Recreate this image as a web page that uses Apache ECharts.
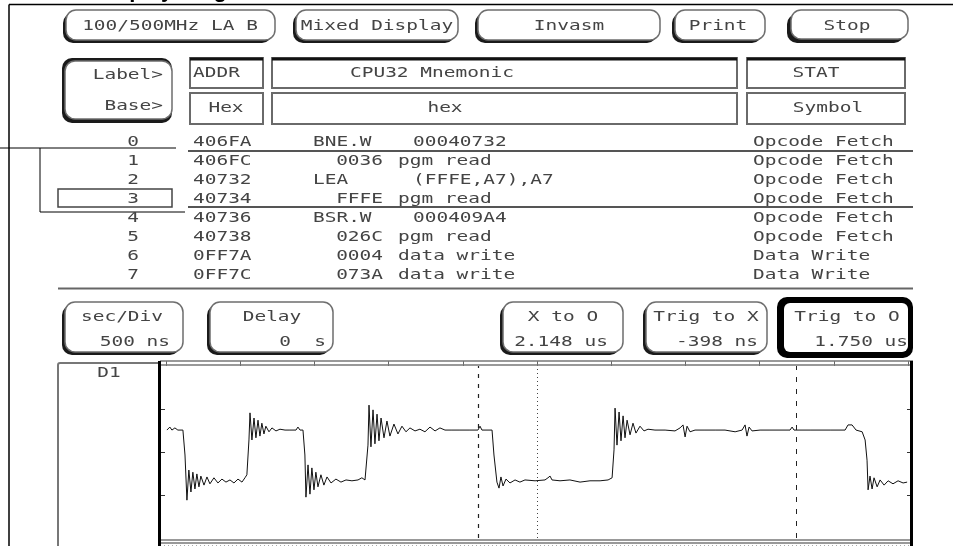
<!DOCTYPE html>
<html><head><meta charset="utf-8">
<script src="https://cdn.jsdelivr.net/npm/echarts@6/dist/echarts.min.js"></script>
<style>html,body{margin:0;padding:0;background:#fff}#c{width:953px;height:546px}</style>
</head><body><div id="c"></div>
<script>
// ---------------- data ----------------
const titleText = 'Display Diagram';
const topButtons = ['100/500MHz LA B', 'Mixed Display', 'Invasm', 'Print', 'Stop'];
const headerLabels = ['Label>', 'Base>'];
const columnLabels = ['ADDR', 'CPU32 Mnemonic', 'STAT'];
const columnBases = ['Hex', 'hex', 'Symbol'];
const stateNumbers = ['0', '1', '2', '3', '4', '5', '6', '7'];
const addresses = ['406FA', '406FC', '40732', '40734', '40736', '40738', '0FF7A', '0FF7C'];
const opcodes = ['BNE.W', '', 'LEA', '', 'BSR.W', '', '', ''];
const operands = ['00040732', '0036', '(FFFE,A7),A7', 'FFFE', '000409A4', '026C', '0004', '073A'];
const busCycles = ['', 'pgm read', '', 'pgm read', '', 'pgm read', 'data write', 'data write'];
const statusSymbols = ['Opcode Fetch', 'Opcode Fetch', 'Opcode Fetch', 'Opcode Fetch', 'Opcode Fetch', 'Opcode Fetch', 'Data Write', 'Data Write'];
const timebaseLabels = ['sec/Div', 'Delay', 'X to O', 'Trig to X', 'Trig to O'];
const timebaseValues = ['500 ns', '0  s', '2.148 us', '-398 ns', '1.750 us'];
const channelLabel = 'D1';
// time in ns relative to trigger, level in divisions
const timeNs = [-2494,-2474,-2460,-2440,-2420,-2386,-2372,-2359,-2346,-2332,-2319,-2305,-2292,-2278,-2265,-2244,-2224,-2204,-2177,-2150,-2123,-2096,-2069,-2042,-2015,-1988,-1968,-1955,
 -1941,-1934,-1921,-1907,-1894,-1880,-1867,-1854,-1840,-1827,-1806,-1786,-1759,-1732,-1698,-1665,-1624,-1611,-1597,-1577,
 -1564,-1557,-1543,-1530,-1517,-1503,-1490,-1476,-1456,-1436,-1415,-1388,-1355,-1321,-1287,-1247,-1206,-1180,-1159,-1146,
 -1139,-1132,-1119,-1105,-1092,-1078,-1065,-1051,-1031,-1011,-991,-964,-937,-910,-883,-856,-822,-789,-755,-721,-687,-654,-620,-573,-519,-452,-398,-384,-371,-303,
 -290,-270,-256,-243,-229,-209,-182,-148,-115,-81,-13,54,74,88,101,155,222,290,357,425,479,506,
 519,526,539,553,566,580,593,607,627,647,667,694,721,748,795,863,930,964,984,998,1011,1031,1065,1132,1200,1267,1335,1382,1402,1415,1429,1449,1503,1570,1705,1719,1732,1840,1975,2076,2096,2123,2150,2191,
 2211,2224,2231,2244,2258,2271,2292,2312,2339,2366,2399,2433,2467,2494];
const d1Level = [0.51,0.58,0.51,0.56,0.51,0.51,-0.07,-1.12,-0.42,-0.93,-0.47,-0.86,-0.51,-0.81,-0.56,-0.77,-0.58,-0.74,-0.60,-0.72,-0.63,-0.70,-0.65,-0.72,-0.63,-0.70,-0.60,-0.53,
 0.28,0.91,0.28,0.79,0.33,0.74,0.37,0.67,0.42,0.60,0.47,0.56,0.49,0.53,0.51,0.51,0.51,0.58,0.51,0.51,
 -0.07,-1.05,-0.30,-0.98,-0.37,-0.88,-0.47,-0.81,-0.53,-0.77,-0.58,-0.72,-0.63,-0.70,-0.65,-0.67,-0.65,-0.60,-0.65,-0.63,
 0.16,1.09,0.12,0.98,0.19,0.88,0.26,0.79,0.33,0.72,0.37,0.65,0.42,0.60,0.47,0.56,0.49,0.53,0.47,0.58,0.49,0.56,0.51,0.51,0.51,0.51,0.51,0.60,0.51,0.51,
 -0.07,-0.70,-0.84,-0.58,-0.79,-0.63,-0.72,-0.65,-0.70,-0.65,-0.67,-0.65,-0.60,-0.56,-0.65,-0.67,-0.65,-0.70,-0.67,-0.67,-0.65,-0.60,
 0.05,1.02,0.16,0.93,0.26,0.84,0.33,0.74,0.40,0.67,0.44,0.60,0.49,0.53,0.51,0.51,0.49,0.56,0.63,0.35,0.60,0.47,0.51,0.51,0.51,0.51,0.47,0.51,0.63,0.37,0.58,0.49,0.51,0.51,0.51,0.58,0.51,0.51,0.51,0.51,0.63,0.63,0.51,0.47,
 0.28,-0.19,-0.88,-0.56,-0.86,-0.60,-0.81,-0.65,-0.77,-0.67,-0.74,-0.67,-0.72,-0.70];
const markerX = -398, triggerT = 0, markerO = 1750;
const timeMin = -2500, timeMax = 2500, timeDiv = 500;
const levelMin = -2, levelMax = 2, levelTicks = [-1, 0, 1];

// ---------------- drawing helpers ----------------
const FONT = '14px "DejaVu Sans Mono"';
const SX = 1.39;
const TXT = '#444';
const g = [];
function txt(str, x, y, align, o) {
  o = o || {};
  g.push({type: 'text', x: x, y: y, scaleX: o.sx || SX, silent: true, z: 20,
    style: {text: str, x: 0, y: 0, font: o.font || FONT, fill: o.fill || TXT,
      align: align, textAlign: align, verticalAlign: o.va || 'middle', textVerticalAlign: o.va || 'middle'}});
}
function rect(x0, y0, x1, y1, style, r, z) {
  g.push({type: 'rect', silent: true, z: z || 5, shape: {x: x0, y: y0, width: x1 - x0, height: y1 - y0, r: r || 0}, style: style});
}
function line(x0, y0, x1, y1, stroke, w, dash, z) {
  g.push({type: 'line', silent: true, z: z || 6, shape: {x1: x0, y1: y0, x2: x1, y2: y1},
    style: {stroke: stroke, lineWidth: w, lineDash: dash || null}});
}
function button(x0, y0, x1, y1, sh, shColor) {
  rect(x0, y0 + sh, x1 - sh, y1, {fill: shColor || '#1a1a1a'}, 10);
  rect(x0 + sh, y0, x1, y1 - sh, {fill: '#fff', stroke: '#6e6e6e', lineWidth: 1.5}, 10);
}
function box(x0, y0, x1, y1, darkTop) {
  rect(x0, y0, x1, y1, {fill: '#fff', stroke: '#6a6a6a', lineWidth: 2});
  if (darkTop) line(x0, y0 + 1, x1, y0 + 1, '#111', 3);
}

// outer frame + title fragment (cut off by the top edge)
txt(titleText, 95, 2, 'left', {font: 'bold 22px "Liberation Sans"', sx: 1, fill: '#000', va: 'bottom'});
line(9, 4.5, 953, 4.5, '#000', 1.5);
line(9, 4.5, 9, 546, '#000', 1.5);

// top buttons
const topBtnGeom = [[63, 275], [293, 458], [475, 660], [672, 765], [787, 908]];
const topBtnText = [170, 377, 569, 718, 847];
topButtons.forEach((t, i) => {
  button(topBtnGeom[i][0], 10, topBtnGeom[i][1], 43, i === 4 ? 4 : 3);
  txt(t, topBtnText[i], 26, 'center');
});

// label/base button
rect(62, 58, 172, 123, {fill: '#1a1a1a'}, 10);
rect(65, 61, 172, 119, {fill: '#fff', stroke: '#6e6e6e', lineWidth: 1.5}, 10);
txt(headerLabels[0], 163, 75, 'right');
txt(headerLabels[1], 163, 106, 'right');

// column header boxes
const colGeom = [[190, 263], [272, 737], [747, 905]];
const colText1 = [[193, 'left'], [432, 'center'], [816, 'center']];
const colText2 = [[226, 'center'], [445, 'center'], [828, 'center']];
colGeom.forEach((c, i) => {
  box(c[0], 58, c[1], 88, true);
  box(c[0], 93, c[1], 124, false);
  txt(columnLabels[i], colText1[i][0], 73, colText1[i][1]);
  txt(columnBases[i], colText2[i][0], 108, colText2[i][1]);
});

// listing
stateNumbers.forEach((s, i) => {
  const y = 142 + 19 * i;
  txt(s, 133, y, 'center');
  txt(addresses[i], 193, y, 'left');
  if (opcodes[i]) {
    txt(opcodes[i], 313, y, 'left');
    txt(operands[i], 413, y, 'left');
  } else {
    txt(operands[i], 383, y, 'right');
  }
  if (busCycles[i]) txt(busCycles[i], 398, y, 'left');
  txt(statusSymbols[i], 753, y, 'left');
});
line(188, 151, 913, 151, '#555', 2);
line(188, 207, 913, 207, '#555', 2);
line(58, 288.5, 913, 288.5, '#666', 2);
line(0, 148, 176, 148, '#000', 1);
line(40, 148, 40, 212, '#000', 1);
line(40, 212, 185, 212, '#000', 1);
rect(58, 189, 172, 207, {fill: 'none', stroke: '#444', lineWidth: 1.5});

// timebase buttons
const tbGeom = [[62, 183], [207, 333], [500, 623], [643, 767]];
const tb1 = [122, 272, 563, 706, 847];
const tb2 = [[170, 'right'], [326, 'right'], [561, 'center'], [758, 'right'], [908, 'right']];
tbGeom.forEach((c) => button(c[0], 302, c[1], 355, 3));
rect(777, 297, 913, 358, {fill: '#000'}, 10);
rect(784, 303, 908, 352, {fill: '#fff'}, 6);
timebaseLabels.forEach((t, i) => {
  txt(t, tb1[i], 317, 'center');
  txt(timebaseValues[i], tb2[i][0], 342, tb2[i][1]);
});

// waveform frame
rect(58, 363, 160, 552, {fill: '#fff', stroke: '#777', lineWidth: 2}, 2);
txt(channelLabel, 109, 373, 'center');
line(160, 361, 913, 361, '#777', 1.5);
line(160, 365, 913, 365, '#777', 1.5);
line(160, 540, 913, 540, '#777', 1.5);
line(160, 543, 913, 543, '#777', 1.5);
line(160, 545.5, 913, 545.5, '#aaa', 1, [1, 3]);
line(159.5, 361, 159.5, 546, '#000', 3);
line(911.5, 361, 911.5, 546, '#000', 3);

// ---------------- chart ----------------
const chart = echarts.init(document.getElementById('c'), null, {renderer: 'canvas'});
const yAxisBase = {
  type: 'value', min: levelMin, max: levelMax, interval: 1,
  axisLine: {show: false, onZero: false}, axisLabel: {show: false}, splitLine: {show: false},
  axisTick: {show: true, inside: true, length: 5, customValues: levelTicks, lineStyle: {color: '#333', width: 1}}
};
chart.setOption({
  animation: false,
  backgroundColor: '#fff',
  graphic: {elements: g},
  grid: {left: 166, right: 45, top: 366, height: 172, containLabel: false},
  xAxis: {
    type: 'value', min: timeMin, max: timeMax, interval: timeDiv, position: 'top',
    axisLine: {show: false, onZero: false}, axisLabel: {show: false}, splitLine: {show: false},
    axisTick: {show: true, inside: false, length: 5, lineStyle: {color: '#666', width: 1}}
  },
  yAxis: [
    Object.assign({}, yAxisBase, {position: 'left', offset: 6}),
    Object.assign({}, yAxisBase, {position: 'right', offset: 4})
  ],
  series: [{
    type: 'line', name: channelLabel,
    data: timeNs.map((t, i) => [t, d1Level[i]]),
    showSymbol: false, symbol: 'none',
    lineStyle: {color: '#111', width: 1},
    z: 10,
    markLine: {
      silent: true, symbol: 'none', label: {show: false},
      lineStyle: {color: '#222', width: 1},
      data: [
        {xAxis: markerX, lineStyle: {type: [4, 6], color: '#222', width: 1.2}},
        {xAxis: triggerT, lineStyle: {type: [1, 3], color: '#444', width: 1}},
        {xAxis: markerO, lineStyle: {type: [5, 7], color: '#222', width: 1}}
      ]
    }
  }]
});
</script>
</body></html>
